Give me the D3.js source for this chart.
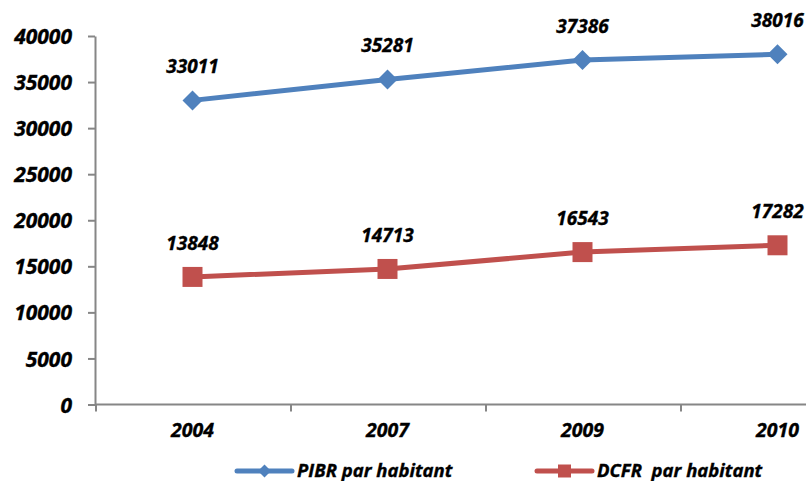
<!DOCTYPE html>
<html>
<head>
<meta charset="utf-8">
<script src="https://cdn.jsdelivr.net/npm/d3@7"></script>
<style>
  html, body { margin: 0; padding: 0; background: #fff; }
  svg text { font-family: "Open Sans", sans-serif; font-weight: bold; font-style: italic;
             fill: #000; stroke: #000; stroke-width: 0.35px; }
</style>
</head>
<body>
<svg id="chart" width="806" height="481"></svg>
<script>
// Données
const years = ['2004', '2007', '2009', '2010'];
const pibr = [33011, 35281, 37386, 38016];   // PIBR par habitant
const dcfr = [13848, 14713, 16543, 17282];   // DCFR par habitant
const yTicks = [0, 5000, 10000, 15000, 20000, 25000, 30000, 35000, 40000];
const seriesNames = ['PIBR par habitant', 'DCFR  par habitant'];

const BLUE = '#4F81BD', RED = '#C0504D', AXIS = '#868686';

const svg = d3.select('#chart');

// échelles : 4 catégories de même largeur, la dernière déborde à droite
const x = d3.scaleBand().domain(years).range([95, 875]).paddingInner(0).paddingOuter(0);
const y = d3.scaleLinear().domain([0, 40000]).range([404.5, 36]);
const cx = (d) => x(d) + x.bandwidth() / 2;

// --- axe Y ---
const yAxis = svg.append('g')
  .attr('transform', 'translate(95,0)')
  .call(d3.axisLeft(y).tickValues(yTicks).tickSize(7).tickSizeOuter(0).tickPadding(16)
    .tickFormat(d3.format('d')));
yAxis.select('.domain').attr('stroke', AXIS).attr('stroke-width', 2);
yAxis.selectAll('.tick line').attr('stroke', AXIS).attr('stroke-width', 2);
yAxis.selectAll('.tick text').attr('font-size', 21).attr('font-family', null).attr('dy', '0.36em');

// --- axe X (ligne + graduations aux limites des catégories) ---
const xAxis = svg.append('g');
xAxis.append('line')
  .attr('x1', x.range()[0]).attr('x2', x.range()[1])
  .attr('y1', y(0)).attr('y2', y(0))
  .attr('stroke', AXIS).attr('stroke-width', 2);
xAxis.selectAll('line.tk')
  .data(years.map((d) => x(d)).concat([x.range()[1]]))
  .join('line').attr('class', 'tk')
  .attr('x1', (d) => d + 1).attr('x2', (d) => d + 1)
  .attr('y1', y(0)).attr('y2', y(0) + 7)
  .attr('stroke', AXIS).attr('stroke-width', 2);
xAxis.selectAll('text')
  .data(years)
  .join('text')
  .attr('x', cx).attr('y', y(0) + 32)
  .attr('text-anchor', 'middle')
  .attr('font-size', 19.5)
  .text((d) => d);

// --- séries ---
const line = d3.line().x((d, i) => cx(years[i])).y((d) => y(d));

function drawSeries(values, color, marker) {
  const g = svg.append('g');
  g.append('path')
    .datum(values)
    .attr('d', line)
    .attr('fill', 'none')
    .attr('stroke', color)
    .attr('stroke-width', 5)
    .attr('stroke-linejoin', 'round');

  g.selectAll('path.mk')
    .data(values)
    .join('path').attr('class', 'mk')
    .attr('transform', (d, i) => `translate(${cx(years[i])},${y(d)})`)
    .attr('d', marker)
    .attr('fill', color);

  g.selectAll('text')
    .data(values)
    .join('text')
    .attr('x', (d, i) => cx(years[i]))
    .attr('y', (d) => y(d) - 27)
    .attr('text-anchor', 'middle')
    .attr('font-size', 19)
    .text((d) => d);
}

const diamond = (r) => `M0,${-r}L${r},0L0,${r}L${-r},0Z`;
const square = (r) => `M${-r},${-r}H${r}V${r}H${-r}Z`;

drawSeries(pibr, BLUE, diamond(10));
drawSeries(dcfr, RED, square(10));

// --- légende ---
const legendItems = [
  { name: seriesNames[0], color: BLUE, mk: diamond(6.5), x0: 237 },
  { name: seriesNames[1], color: RED, mk: square(6.5), x0: 537 }
];
const lg = svg.append('g');
legendItems.forEach((it) => {
  const ly = 471;
  lg.append('line')
    .attr('x1', it.x0).attr('x2', it.x0 + 55)
    .attr('y1', ly).attr('y2', ly)
    .attr('stroke', it.color).attr('stroke-width', 5).attr('stroke-linecap', 'round');
  lg.append('path')
    .attr('transform', `translate(${it.x0 + 27.5},${ly})`)
    .attr('d', it.mk).attr('fill', it.color);
  lg.append('text')
    .attr('x', it.x0 + 60).attr('y', 477)
    .attr('font-size', 18.5)
    .attr('xml:space', 'preserve')
    .style('white-space', 'pre')
    .text(it.name);
});
</script>
</body>
</html>
